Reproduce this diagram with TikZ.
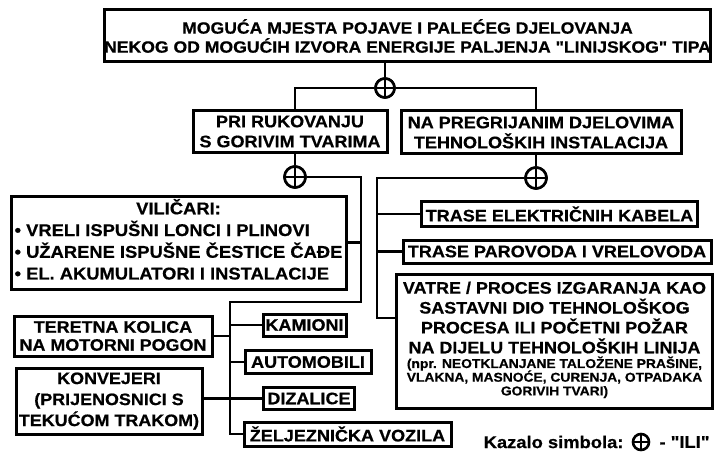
\documentclass[tikz,border=0pt]{standalone}
\usepackage{fontspec}
\setmainfont{Liberation Sans}[FakeStretch=1.08, Ligatures=TeXOff, BoldFeatures={FakeBold=0.6}]
\begin{document}
\begin{tikzpicture}[x=1pt,y=-1pt,
  every node/.style={font=\bfseries},
  line/.style={line width=2.8pt},
  box/.style={draw, line width=3pt, inner sep=0pt, align=center, fill=white},
  orsym/.style={draw, circle, line width=2.6pt, minimum size=#1, inner sep=0pt, fill=white,
    path picture={\draw[line width=2.6pt] (path picture bounding box.west) -- (path picture bounding box.east)
      (path picture bounding box.north) -- (path picture bounding box.south);}},
  fa/.style={font=\bfseries\fontsize{16.7}{20}\selectfont}
]
\useasboundingbox (0,0) rectangle (716,452);

% boxes
\node[box, minimum width=579, minimum height=52, font=\bfseries\fontsize{16.3}{19}\selectfont] (top) at (407.5,36)
  {MOGUĆA MJESTA POJAVE I PALEĆEG DJELOVANJA\\NEKOG OD MOGUĆIH IZVORA ENERGIJE PALJENJA "LINIJSKOG" TIPA};
\node[orsym=19] (or1) at (385,88) {};

\node[box, fa, minimum width=194, minimum height=42] (pri) at (290,131.5) {PRI RUKOVANJU\\S GORIVIM TVARIMA};
\node[box, fa, minimum width=280, minimum height=43] (na) at (541,132.5) {NA PREGRIJANIM DJELOVIMA\\TEHNOLOŠKIH INSTALACIJA};

\node[orsym=21] (or2) at (295,177) {};
\node[orsym=21] (or3) at (536,178) {};

\node[box, minimum width=335, minimum height=93, font=\bfseries\fontsize{17}{21.7}\selectfont] (vil) at (178.5,242.5)
  {\begin{tabular}{@{}l@{}}\multicolumn{1}{@{}c@{}}{VILIČARI:}\\ • VRELI ISPUŠNI LONCI I PLINOVI\\ • UŽARENE ISPUŠNE ČESTICE ČAĐE\\ • EL. AKUMULATORI I INSTALACIJE\end{tabular}};

\node[box, fa, minimum width=276, minimum height=25] (trel) at (559.5,214) {TRASE ELEKTRIČNIH KABELA};
\node[box, fa, minimum width=308, minimum height=23] (trpar) at (557,251.5) {TRASE PAROVODA I VRELOVODA};

\node[box, minimum width=316, minimum height=134, font=\bfseries\fontsize{16.6}{16.7}\selectfont] (vatre) at (554.5,341)
  {\begin{tabular}{@{}c@{}}VATRE / PROCES IZGARANJA KAO\\ SASTAVNI DIO TEHNOLOŠKOG\\ PROCESA ILI POČETNI POŽAR\\ NA DIJELU TEHNOLOŠKIH LINIJA\\[-2pt]
  {\fontsize{12.8}{14}\selectfont (npr. NEOTKLANJANE TALOŽENE PRAŠINE,}\\[-3pt]
  {\fontsize{12.8}{14}\selectfont VLAKNA, MASNOĆE, CURENJA, OTPADAKA}\\[-3pt]
  {\fontsize{12.8}{14}\selectfont GORIVIH TVARI)}\end{tabular}};

\node[box, minimum width=198, minimum height=40, font=\bfseries\fontsize{16.6}{18}\selectfont] (teret) at (113,336) {TERETNA KOLICA\\NA MOTORNI POGON};
\node[box, minimum width=186, minimum height=66, font=\bfseries\fontsize{16.6}{21}\selectfont] (konv) at (109,401) {KONVEJERI\\(PRIJENOSNICI S\\TEKUĆOM TRAKOM)};

\node[box, fa, minimum width=83, minimum height=22] (kam) at (304.5,325) {KAMIONI};
\node[box, fa, minimum width=126, minimum height=23] (auto) at (308,362) {AUTOMOBILI};
\node[box, fa, minimum width=91, minimum height=22] (diz) at (309,398.5) {DIZALICE};
\node[box, fa, minimum width=207, minimum height=24] (zel) at (347.5,434) {ŽELJEZNIČKA VOZILA};

% legend
\node[font=\bfseries\fontsize{17}{20}\selectfont, anchor=east] (legtxt) at (627,442) {Kazalo simbola:};
\node[orsym=16] (legor) at (641,442) {};
\node[font=\bfseries\fontsize{17}{20}\selectfont, anchor=west] (legili) at (656,442) {- "ILI"};

% connectors
\coordinate (j1) at (361,302);
\coordinate (j2) at (230,302);
\coordinate (j3) at (377,318);

\draw[line] (top.south -| or1) -- (or1);
\draw[line] (or1) -| (pri.north -| or2);
\draw[line] (or1) -| (na.north -| or3);
\draw[line] (pri.south -| or2) -- (or2);
\draw[line] (na.south -| or3) -- (or3);

\draw[line] (or2) -| (j1) -- (j2) |- (zel.west);
\draw[line] (vil.east) -- (vil.east -| j1);
\draw[line] (teret.east) -- (teret.east -| j2);
\draw[line] (kam.west) -- (kam.west -| j2);
\draw[line] (auto.west) -- (auto.west -| j2);
\draw[line] (konv.east |- diz.west) -- (diz.west);

\draw[line] (or3) -| (j3) -- (j3 -| vatre.west);
\draw[line] (trel.west -| j3) -- (trel.west);
\draw[line] (trpar.west -| j3) -- (trpar.west);

% redraw OR symbols on top
\node[orsym=19] at (or1) {};
\node[orsym=21] at (or2) {};
\node[orsym=21] at (or3) {};
\end{tikzpicture}
\end{document}
